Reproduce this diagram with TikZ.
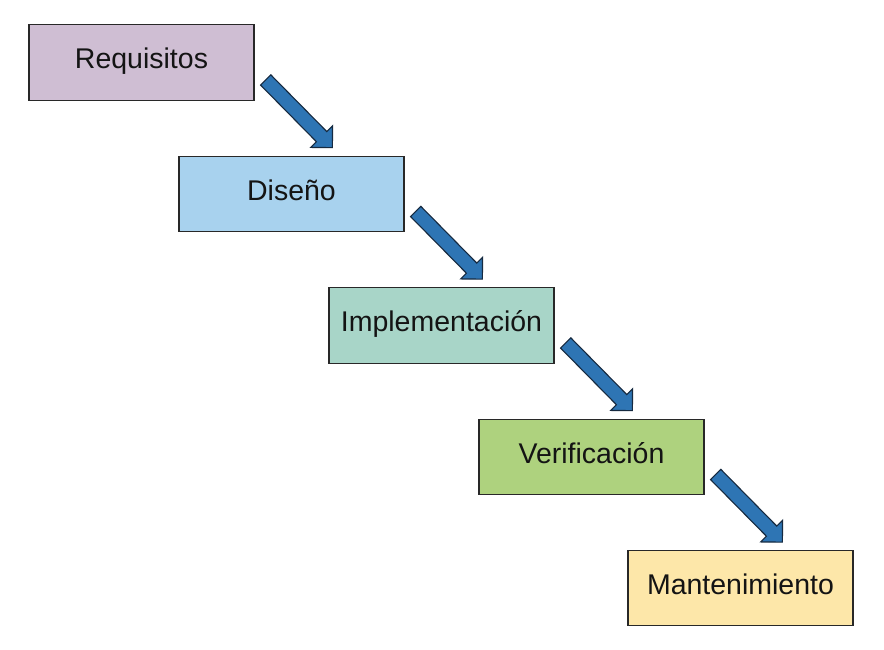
\documentclass[tikz,border=0pt]{standalone}
\usepackage{fontspec}
\setmainfont{Liberation Sans}
\usetikzlibrary{calc}
\definecolor{cReq}{RGB}{207,190,211}
\definecolor{cDis}{RGB}{168,210,238}
\definecolor{cImp}{RGB}{168,213,200}
\definecolor{cVer}{RGB}{174,210,126}
\definecolor{cMan}{RGB}{253,231,169}
\definecolor{cArrow}{RGB}{46,117,180}
\definecolor{cArrowLine}{RGB}{22,42,64}
\definecolor{cBorder}{RGB}{40,40,40}
\definecolor{cText}{RGB}{20,20,20}
\tikzset{
  stage/.style={draw=cBorder, line width=1.4pt, rectangle, minimum width=225pt,
    minimum height=75.5pt, inner sep=0pt, text=cText,
    font=\fontsize{28.5}{34}\selectfont, text height=20pt, text depth=7.5pt},
  barrowstyle/.style={fill=cArrow, draw=cArrowLine, line width=1.1pt, line join=miter},
  barrow/.pic={
    \path[barrowstyle] (0,7.25) -- (79.6,7.25) -- (79.6,15.4) -- (95,0)
      -- (79.6,-15.4) -- (79.6,-7.25) -- (0,-7.25) -- cycle;
  }
}
\begin{document}
\begin{tikzpicture}[x=1pt,y=-1pt]
\useasboundingbox[fill=white] (0,0) rectangle (884,649);
\node[stage, fill=cReq] (R) at (141.5,62.5) {Requisitos};
\node[stage, fill=cDis] (D) at (291.5,194) {Diseño};
\node[stage, fill=cImp] (I) at (441.5,325.5) {Implementación};
\node[stage, fill=cVer] (V) at (591.5,457) {Verificación};
\node[stage, fill=cMan] (M) at (740.5,588) {Mantenimiento};
\coordinate (a1) at ($(R.south east)+(11,-21)$);
\coordinate (a2) at ($(D.south east)+(11,-21)$);
\coordinate (a3) at ($(I.south east)+(11,-21)$);
\coordinate (a4) at ($(V.south east)+(11,-21)$);
\pic[rotate=-45.4] at (a1) {barrow};
\pic[rotate=-45.4] at (a2) {barrow};
\pic[rotate=-45.4] at (a3) {barrow};
\pic[rotate=-45.4] at (a4) {barrow};
\end{tikzpicture}
\end{document}
